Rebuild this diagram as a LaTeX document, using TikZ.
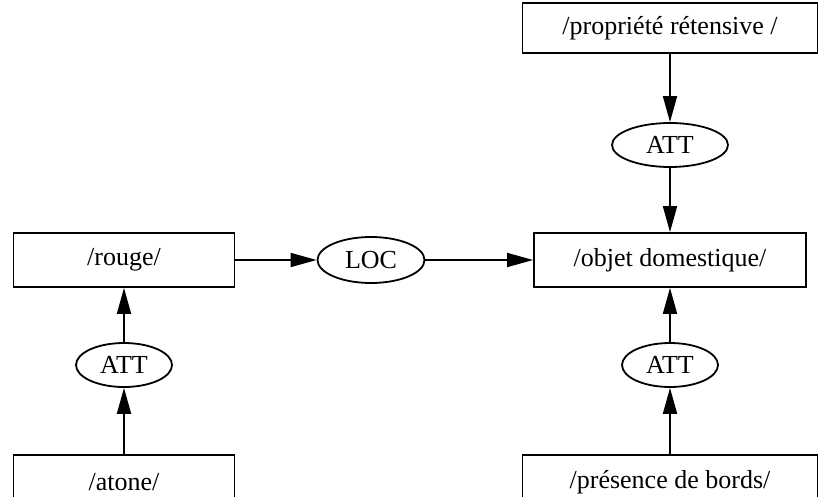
\documentclass[tikz,border=0pt]{standalone}
\usepackage{fontspec}
\setmainfont{Liberation Serif}
\usetikzlibrary{arrows.meta,shapes.geometric}

\begin{document}
\begin{tikzpicture}[x=1pt,y=-1pt,line width=1.8pt,
  concept/.style={draw,rectangle,minimum height=54pt,inner sep=0pt,font=\fontsize{26}{30}\selectfont},
  relation/.style={draw,ellipse,minimum width=96pt,minimum height=44pt,inner sep=0pt,font=\fontsize{26}{30}\selectfont},
  link/.style={-{Triangle[length=26pt,width=14pt]}}]
  \useasboundingbox (0,0) rectangle (821,497);
  \clip (0,0) rectangle (821,497);
  % concepts
  \node[concept,minimum width=295pt,minimum height=50pt] (prop) at (670,28) {/propriété rétensive /};
  \node[concept,minimum width=272pt] (objet) at (670,260) {/objet domestique/};
  \node[concept,minimum width=221pt] (rouge) at (124,260) {/rouge/};
  \node[concept,minimum width=221pt] (atone) at (124,482) {/atone/};
  \node[concept,minimum width=295pt] (bords) at (670,482) {/présence de bords/};
  % relations
  \node[relation,minimum width=116pt] (attA) at (670,145) {ATT};
  \node[relation,minimum width=107pt,minimum height=46pt] (loc) at (371,260) {LOC};
  \node[relation] (attB) at (124,365) {ATT};
  \node[relation] (attC) at (670,365) {ATT};
  % links
  \draw[link] (prop) -- (attA);
  \draw[link] (attA) -- (objet);
  \draw[link] (rouge) -- (loc);
  \draw[link] (loc) -- (objet);
  \draw[link] (atone) -- (attB);
  \draw[link] (attB) -- (rouge);
  \draw[link] (bords) -- (attC);
  \draw[link] (attC) -- (objet);
\end{tikzpicture}
\end{document}
